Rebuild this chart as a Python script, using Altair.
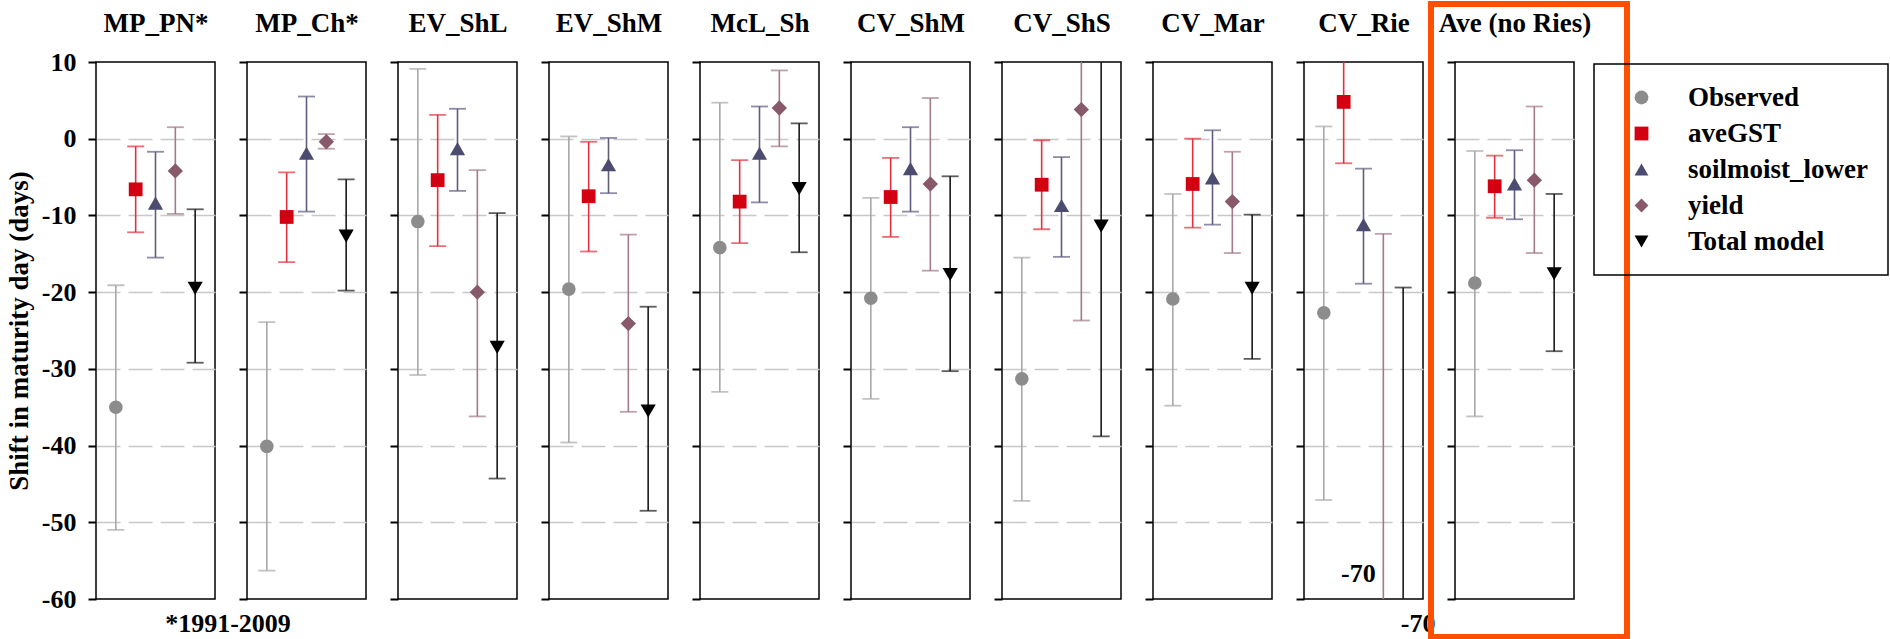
import altair as alt
import pandas as pd

sites = ["MP_PN*", "MP_Ch*", "EV_ShL", "EV_ShM", "McL_Sh", "CV_ShM",
         "CV_ShS", "CV_Mar", "CV_Rie", "Ave (no Ries)"]
series = ["Observed", "aveGST", "soilmoist_lower", "yield", "Total model"]

obs_mean = [-35.0, -40.1, -10.8, -19.6, -14.2, -20.8, -31.3, -20.9, -22.7, -18.8]
obs_low = [-51.0, -56.3, -30.8, -39.6, -33.0, -33.9, -47.2, -34.8, -47.1, -36.2]
obs_high = [-19.1, -23.9, 9.1, 0.3, 4.7, -7.7, -15.5, -7.2, 1.6, -1.6]

gst_mean = [-6.6, -10.2, -5.4, -7.5, -8.2, -7.6, -6.0, -5.9, 4.8, -6.2]
gst_low = [-12.2, -16.1, -14.0, -14.7, -13.6, -12.8, -11.8, -11.6, -3.2, -10.3]
gst_high = [-1.0, -4.4, 3.1, -0.4, -2.8, -2.5, -0.2, 0.0, 12.8, -2.2]

soil_mean = [-8.4, -1.9, -1.3, -3.4, -1.9, -3.9, -8.7, -5.1, -11.2, -5.9]
soil_low = [-15.5, -9.5, -6.8, -7.1, -8.3, -9.5, -15.4, -11.2, -18.9, -10.5]
soil_high = [-1.7, 5.5, 3.9, 0.1, 4.2, 1.5, -2.4, 1.1, -3.9, -1.5]

yield_mean = [-4.2, -0.4, -20.0, -24.1, 4.0, -5.9, 3.8, -8.2, -70.0, -5.4]
yield_low = [-9.8, -1.3, -36.2, -35.6, -1.0, -17.2, -23.7, -14.9, -127.6, -14.9]
yield_high = [1.5, 0.6, -4.1, -12.5, 8.9, 5.3, 31.3, -1.7, -12.4, 4.2]

tot_mean = [-19.5, -12.7, -27.2, -35.5, -6.5, -17.7, -11.4, -19.5, -70.0, -17.6]
tot_low = [-29.2, -19.8, -44.3, -48.5, -14.8, -30.3, -38.8, -28.7, -120.6, -27.7]
tot_high = [-9.2, -5.3, -9.7, -21.9, 2.0, -4.9, 16.0, -9.9, -19.4, -7.2]

marker_colors = ["#8c8c8c", "#d20010", "#4c4b70", "#87596a", "#000000"]
bar_colors = ["#a8a8a8", "#e2303c", "#5e5d80", "#a27a88", "#1a1a1a"]
shapes = ["circle", "square", "triangle-up", "diamond", "triangle-down"]
marker_sizes = [185, 190, 230, 235, 230]

y_ticks = [10, 0, -10, -20, -30, -40, -50, -60]
y_title = "Shift in maturity day (days)"
note_text = "*1991-2009"

# off-scale annotations (CV_Rie)
ann_site = ["CV_Rie", "CV_Rie"]
ann_series = ["yield", "Total model"]
ann_pos = [-56.8, -63.3]
ann_text = ["-70", "-70"]

means = [obs_mean, gst_mean, soil_mean, yield_mean, tot_mean]
lows = [obs_low, gst_low, soil_low, yield_low, tot_low]
highs = [obs_high, gst_high, soil_high, yield_high, tot_high]

rows = []
for si, site in enumerate(sites):
    for k, name in enumerate(series):
        rows.append({"site": site, "series": name, "mean": means[k][si],
                     "low": lows[k][si], "high": highs[k][si],
                     "bar_color": bar_colors[k], "msize": marker_sizes[k]})
df = pd.DataFrame(rows)
ann_df = pd.DataFrame({"site": ann_site, "series": ann_series,
                       "pos": ann_pos, "text": ann_text})

FONT = "Liberation Serif"
W, H, SP = 119, 537, 32

yscale = alt.Scale(domain=[-60, 10], nice=False, zero=False)
xscale = alt.Scale(domain=series, type="point", padding=1)
bar_stroke = alt.Stroke("bar_color:N", scale=None)
bar_fill = alt.Fill("bar_color:N", scale=None)
leg = alt.Legend(title=None, orient="none", legendX=1498, legendY=2)


def panel(i):
    site = sites[i]
    first = i == 0
    xenc = alt.X("series:N", scale=xscale,
                 axis=alt.Axis(orient="top", title=site, labels=False, ticks=False,
                               domain=False, grid=False, titlePadding=25,
                               titleFontSize=27))
    ax_kw = dict(values=y_ticks, labels=first, grid=True,
                 labelExpr="'' + datum.value",
                 gridOpacity={"condition": {"test": "datum.value >= 10 || datum.value <= -60", "value": 0}, "value": 1})
    if first:
        ax_kw["title"] = y_title
    else:
        ax_kw["title"] = None
    yaxis = alt.Axis(**ax_kw)
    base = alt.Chart(df).transform_filter(alt.datum.site == site)
    rule = base.mark_rule(strokeWidth=1.6, clip=True).encode(
        x=xenc, y=alt.Y("low:Q", scale=yscale, axis=yaxis), y2="high:Q", stroke=bar_stroke)
    cap_lo = base.mark_tick(size=17, thickness=1.8, clip=True).encode(
        x=xenc, y=alt.Y("low:Q", scale=yscale, axis=yaxis), fill=bar_fill)
    cap_hi = base.mark_tick(size=17, thickness=1.8, clip=True).encode(
        x=xenc, y=alt.Y("high:Q", scale=yscale, axis=yaxis), fill=bar_fill)
    pts = base.mark_point(filled=True, opacity=1, clip=True).encode(
        x=xenc, y=alt.Y("mean:Q", scale=yscale, axis=yaxis),
        size=alt.Size("msize:Q", scale=None),
        color=alt.Color("series:N", scale=alt.Scale(domain=series, range=marker_colors), legend=leg),
        shape=alt.Shape("series:N", scale=alt.Scale(domain=series, range=shapes), legend=leg))
    layers = [rule, cap_lo, cap_hi, pts]
    if site == "CV_Rie":
        a = alt.Chart(ann_df).transform_filter(alt.datum.site == site)
        t1 = a.transform_filter(alt.datum.series == "yield").mark_text(
            font=FONT, fontSize=26, fontWeight="bold", color="black", dx=-25).encode(
            x=xenc, y=alt.Y("pos:Q", scale=yscale, axis=yaxis), text="text:N")
        t2 = a.transform_filter(alt.datum.series == "Total model").mark_text(
            font=FONT, fontSize=26, fontWeight="bold", color="black", dx=15).encode(
            x=xenc, y=alt.Y("pos:Q", scale=yscale, axis=yaxis), text="text:N")
        layers += [t1, t2]
    if first:
        note = alt.Chart(pd.DataFrame({"note": [note_text]})).mark_text(
            font=FONT, fontSize=26, fontWeight="bold", color="black").encode(
            x=alt.value(132), y=alt.value(562), text="note:N")
        layers.append(note)
    if i == len(sites) - 1:
        box = alt.Chart(pd.DataFrame({"k": [0]})).mark_rect(
            filled=False, stroke="#ff5000", strokeWidth=6).encode(
            x=alt.value(-24), x2=alt.value(172), y=alt.value(-58), y2=alt.value(575))
        layers.append(box)
    return alt.layer(*layers).properties(width=W, height=H)


chart = alt.hconcat(*[panel(i) for i in range(len(sites))], spacing=SP).properties(
    bounds="flush", padding={"left": 4, "top": 0, "right": 0, "bottom": 0},
    background="white"
).configure_view(stroke="black", strokeWidth=1.5).configure_axis(
    labelFont=FONT, labelFontSize=26, labelFontWeight="bold", labelColor="black",
    titleFont=FONT, titleFontSize=27, titleFontWeight="bold", titleColor="black",
    tickSize=8, tickWidth=2, tickColor="black", domain=False,
    gridColor="#c8c8c8", gridDash=[24, 8], gridWidth=1.5,
    labelPadding=12, titlePadding=8
).configure_legend(
    labelFont=FONT, labelFontSize=27, labelFontWeight="bold", labelColor="black",
    symbolSize=190, symbolOpacity=1, symbolStrokeWidth=0, rowPadding=8,
    symbolOffset=14, labelOffset=33, padding=20, strokeColor="black",
    strokeWidth=1.5, labelLimit=400
)

chart.save("out.html", embed_options={"renderer": "svg", "actions": False})
